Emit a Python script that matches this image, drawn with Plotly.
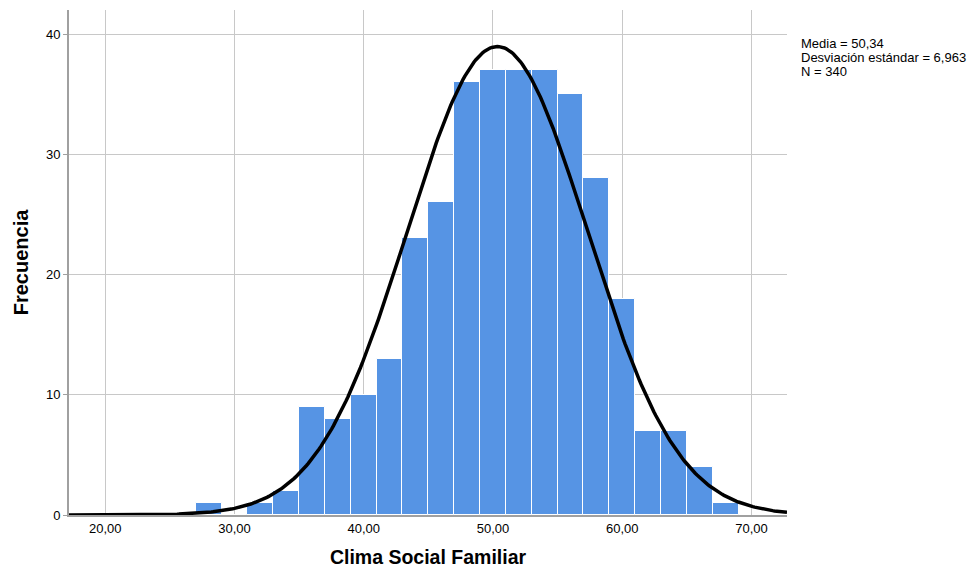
import numpy as np
import plotly.graph_objects as go

bin_centers = [28, 30, 32, 34, 36, 38, 40, 42, 44, 46, 48, 50, 52, 54, 56, 58, 60, 62, 64, 66, 68]
counts = [1, 0, 1, 2, 9, 8, 10, 13, 23, 26, 36, 37, 37, 37, 35, 28, 18, 7, 7, 4, 1]
bin_width = 2
mean = 50.34
sd = 6.963
n = 340
x_ticks = [20, 30, 40, 50, 60, 70]
x_tick_labels = ["20,00", "30,00", "40,00", "50,00", "60,00", "70,00"]
y_ticks = [0, 10, 20, 30, 40]
stat_lines = ["Media = 50,34", "Desviación estándar = 6,963", "N = 340"]

x_range = [17.2, 72.75]
y_range = [0, 42.0]

# normal curve defined by the displayed statistics
xc = np.linspace(x_range[0], x_range[1], 400)
yc = n * bin_width / (sd * np.sqrt(2 * np.pi)) * np.exp(-0.5 * ((xc - mean) / sd) ** 2)

fig = go.Figure()
fig.add_trace(go.Bar(
    x=bin_centers, y=counts, width=bin_width,
    marker=dict(color="#5694E4", line=dict(color="white", width=1)),
    hoverinfo="x+y", showlegend=False,
))
fig.add_trace(go.Scatter(
    x=xc, y=yc, mode="lines",
    line=dict(color="black", width=3.5),
    showlegend=False, hoverinfo="skip",
))

ann_y = [0.9327, 0.905, 0.878]
annotations = [
    dict(x=1.0165, y=yy, xref="paper", yref="paper",
         xanchor="left", yanchor="middle", align="left", showarrow=False,
         text=t, font=dict(size=13, color="black"))
    for t, yy in zip(stat_lines, ann_y)
]

fig.update_layout(
    width=971, height=577,
    margin=dict(l=69, r=184, t=10, b=62),
    paper_bgcolor="white", plot_bgcolor="white",
    font=dict(family="Liberation Sans, Arial, sans-serif", size=12, color="black"),
    bargap=0,
    annotations=annotations,
)
fig.update_xaxes(
    range=x_range, tickvals=x_ticks, ticktext=x_tick_labels,
    showgrid=True, gridcolor="#c8c8c8", gridwidth=1,
    showline=True, linecolor="#a0a0a0", linewidth=2,
    ticks="", zeroline=False,
    tickfont=dict(size=13),
    title=dict(text="<b>Clima Social Familiar</b>", font=dict(size=19.5), standoff=16),
)
fig.update_yaxes(
    range=y_range, tickvals=y_ticks,
    showgrid=True, gridcolor="#c8c8c8", gridwidth=1,
    showline=True, linecolor="#a0a0a0", linewidth=2,
    ticks="outside", ticklen=4, tickcolor="#a0a0a0", zeroline=False,
    tickfont=dict(size=13),
    title=dict(text="<b>Frecuencia</b>", font=dict(size=20), standoff=12),
)

fig.write_html(
    "out.html",
    config={"displayModeBar": False},
    post_script="document.body.style.margin='0';document.body.style.overflow='hidden';",
)
